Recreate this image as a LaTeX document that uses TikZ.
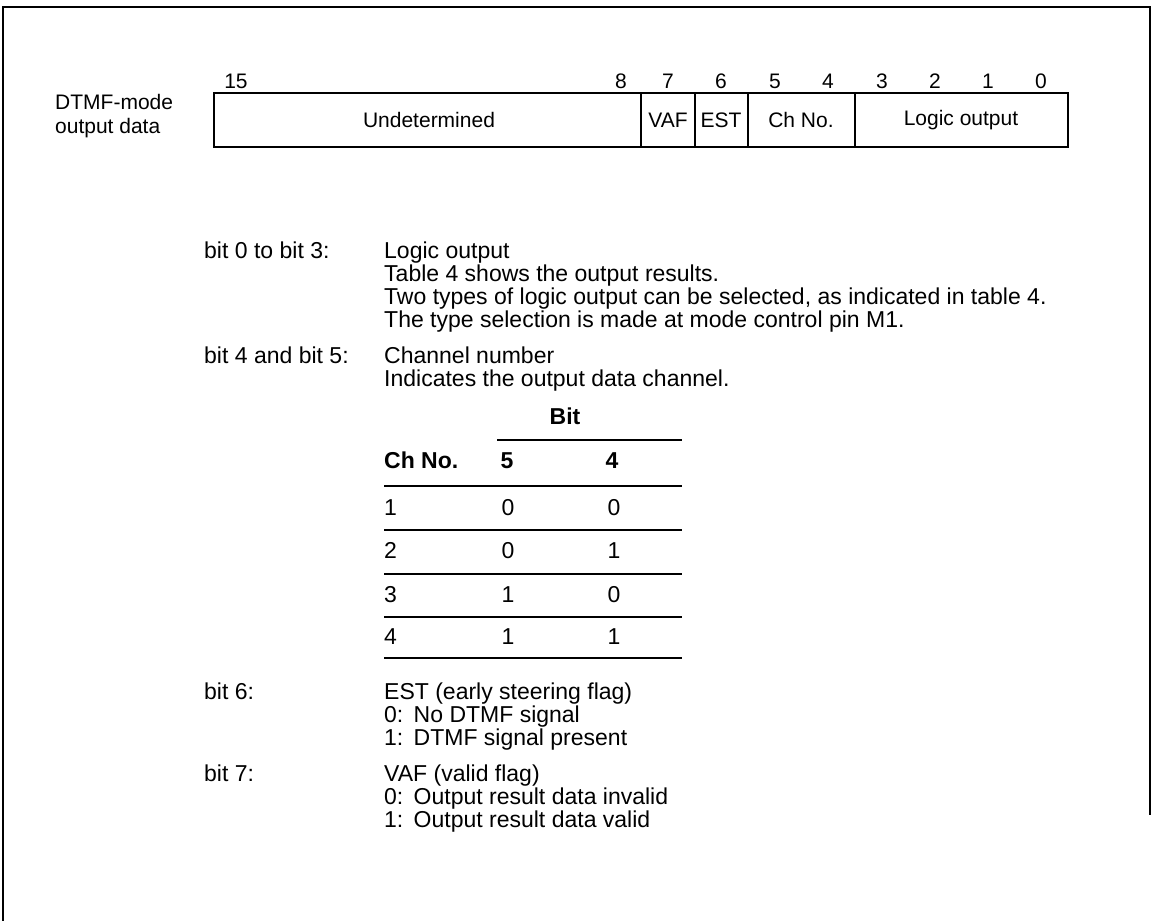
\documentclass[tikz,border=0pt]{standalone}
\usepackage{fontspec}
\setmainfont{Liberation Sans}
\newcommand{\csp}{\hspace{0.45em}}
\begin{document}
\begin{tikzpicture}[x=1pt,y=-1pt,
  txt/.style={font=\fontsize{21}{24}\selectfont, inner sep=0pt},
  dtxt/.style={font=\fontsize{23}{24}\selectfont, inner sep=0pt, text height=16.5pt, text depth=4.5pt},
  lt/.style={dtxt, anchor=west},
  ct/.style={txt, anchor=center},
  dct/.style={dtxt, anchor=center},
  bt/.style={dtxt, font=\fontsize{23}{24}\selectfont\bfseries},
  reg/.style={line width=2.6pt},
  rule/.style={line width=2pt},
  frame/.style={line width=2.2pt}]
\useasboundingbox (0,0) rectangle (1154,921);
% outer frame (open at bottom)
\draw[frame] (3,921) -- (3,7) -- (1150,7) -- (1150,815);
% register
\draw[reg] (214,93) rectangle (1068,147);
\foreach \x in {641,695,748,855} \draw[reg] (\x,93) -- (\x,147);
\node[ct] (und) at (429,120) {Undetermined};
\node[ct] (vaf) at (668,120) {VAF};
\node[ct] (est) at (721,120) {EST};
\node[ct] (chn) at (801,120) {Ch No.};
\node[ct] (lgo) at (961,120) {Logic output};
\foreach \x/\t [count=\i] in {236/15,621/8,668/7,721/6,775/5,828/4,882/3,935/2,988/1,1041/0}
  \node[ct] (bn\i) at (\x,81) {\t};
\node[txt, anchor=west, align=left] (ttl) at (55,116) {DTMF-mode\\output data};
% descriptions
\node[lt] (b03) at (204,252) {bit 0 to bit 3:};
\node[lt] (d1) at (384,252) {Logic output};
\node[lt] (d2) at (384,275) {Table 4 shows the output results.};
\node[lt] (d3) at (384,298) {Two types of logic output can be selected, as indicated in table 4.};
\node[lt] (d4) at (384,321) {The type selection is made at mode control pin M1.};
\node[lt] (b45) at (204,357) {bit 4 and bit 5:};
\node[lt] (d5) at (384,357) {Channel number};
\node[lt] (d6) at (384,380) {Indicates the output data channel.};
% table
\node[bt, anchor=center] (hbit) at (565,418) {Bit};
\draw[rule] (497,440) -- (682,440);
\node[bt, anchor=west] (hch) at (384,462) {Ch No.};
\node[bt, anchor=center] (h5) at (507,462) {5};
\node[bt, anchor=center] (h4) at (612,462) {4};
\draw[rule] (384,486) -- (682,486);
\foreach \y/\c/\a/\b [count=\i] in {509/1/0/0,552/2/0/1,596/3/1/0,638/4/1/1}{
  \node[lt] (c\i) at (384,\y) {\c};
  \node[dct] (f\i) at (508,\y) {\a};
  \node[dct] (g\i) at (614,\y) {\b};
}
\draw[rule] (384,530) -- (682,530);
\draw[rule] (384,574) -- (682,574);
\draw[rule] (384,617) -- (682,617);
\draw[line width=2.8pt] (384,658) -- (682,658);
% bit 6
\node[lt] (b6) at (204,693) {bit 6:};
\node[lt] (e1) at (384,693) {EST (early steering flag)};
\node[lt] (e2) at (384,716) {0:\csp No DTMF signal};
\node[lt] (e3) at (384,739) {1:\csp DTMF signal present};
% bit 7
\node[lt] (b7) at (204,775) {bit 7:};
\node[lt] (v1) at (384,775) {VAF (valid flag)};
\node[lt] (v2) at (384,798) {0:\csp Output result data invalid};
\node[lt] (v3) at (384,821) {1:\csp Output result data valid};
\end{tikzpicture}
\end{document}
